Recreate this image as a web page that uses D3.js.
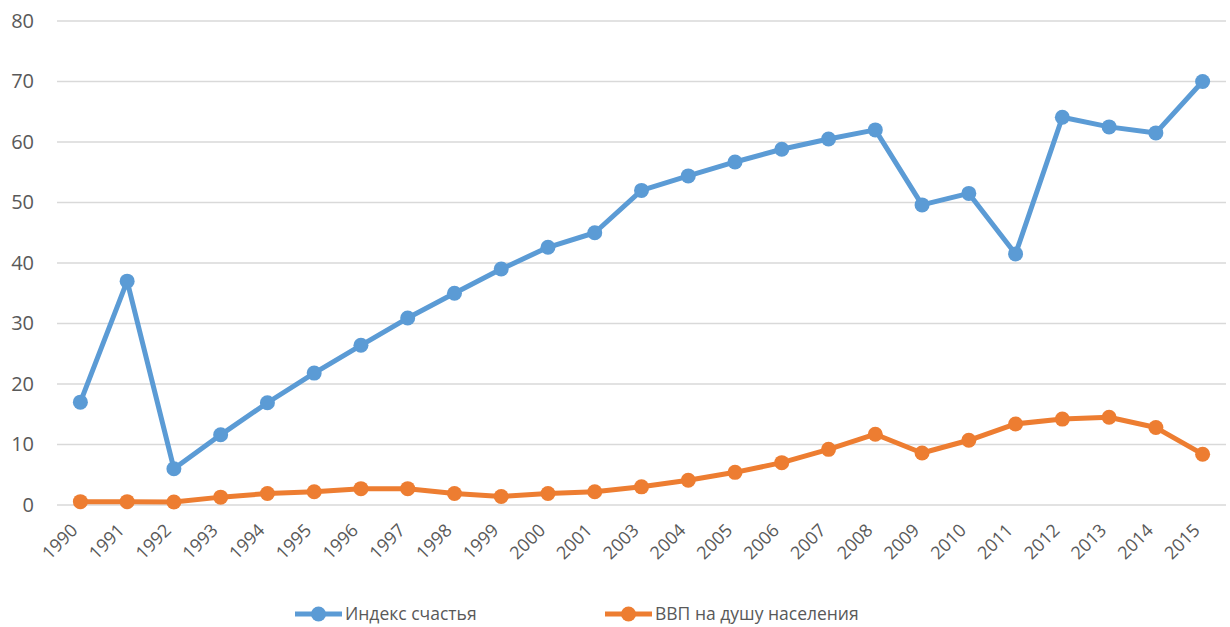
<!DOCTYPE html>
<html>
<head>
<meta charset="utf-8">
<script src="https://cdn.jsdelivr.net/npm/d3@7"></script>
<style>
  body { margin: 0; background: #fff; }
  text { font-family: "Open Sans", "Noto Sans", sans-serif; fill: #595959; }
</style>
</head>
<body>
<div id="chart"></div>
<script>
var years = ["1990", "1991", "1992", "1993", "1994", "1995", "1996", "1997", "1998", "1999",
             "2000", "2001", "2003", "2004", "2005", "2006", "2007", "2008", "2009", "2010",
             "2011", "2012", "2013", "2014", "2015"];
var happiness = [17.0, 37.0, 6.0, 11.6, 16.9, 21.8, 26.4, 30.9, 35.0, 39.0,
                 42.6, 45.0, 52.0, 54.4, 56.7, 58.8, 60.5, 62.0, 49.6, 51.5,
                 41.5, 64.1, 62.5, 61.5, 70.0];
var gdp = [0.55, 0.55, 0.5, 1.3, 1.9, 2.2, 2.7, 2.7, 1.9, 1.4,
           1.9, 2.2, 3.0, 4.1, 5.4, 7.0, 9.2, 11.7, 8.6, 10.7,
           13.4, 14.2, 14.5, 12.8, 8.4];
var yTicks = [0, 10, 20, 30, 40, 50, 60, 70, 80];
var seriesNames = ["Индекс счастья", "ВВП на душу населения"];
var colors = ["#5B9BD5", "#ED7D31"];

var w = 1230;
var h = 627;
var margin = {left: 57, right: 4, top: 21, bottom: 122};

var svg = d3.select("#chart")
			.append("svg")
			.attr("width", w)
			.attr("height", h);

var x = d3.scaleBand()
		  .domain(years)
		  .range([margin.left, w - margin.right]);

var y = d3.scaleLinear()
		  .domain([0, 80])
		  .range([h - margin.bottom, margin.top]);

// gridlines
svg.append("g")
   .selectAll("line")
   .data(yTicks)
   .enter()
   .append("line")
   .attr("x1", margin.left)
   .attr("x2", w - margin.right)
   .attr("y1", d => y(d))
   .attr("y2", d => y(d))
   .attr("stroke", "#d9d9d9")
   .attr("stroke-width", 1.3);

// y axis labels
var yAxis = d3.axisLeft(y).tickValues(yTicks).tickSize(0).tickPadding(0);
var yg = svg.append("g")
			.attr("transform", "translate(34,0)")
			.call(yAxis);
yg.select(".domain").remove();
yg.selectAll("text")
  .attr("font-size", "20px")
  .style("font-family", "\"Open Sans\", sans-serif")
  .attr("fill", "#595959");

// x axis labels
var xAxis = d3.axisBottom(x).tickSize(0).tickPadding(0);
var xg = svg.append("g")
			.attr("transform", "translate(0," + (h - margin.bottom) + ")")
			.call(xAxis);
xg.select(".domain").remove();
xg.selectAll("text")
  .attr("font-size", "18px")
  .style("font-family", "\"Open Sans\", sans-serif")
  .attr("fill", "#595959")
  .attr("text-anchor", "end")
  .attr("dy", "0.35em")
  .attr("transform", "translate(-6,22) rotate(-45)");

var allSeries = [happiness, gdp];
var line = d3.line()
			 .x((d, i) => x(years[i]) + x.bandwidth() / 2)
			 .y(d => y(d));

allSeries.forEach(function(s, k) {
	svg.append("path")
	   .datum(s)
	   .attr("d", line)
	   .attr("fill", "none")
	   .attr("stroke", colors[k])
	   .attr("stroke-width", 5)
	   .attr("stroke-linejoin", "round");

	svg.append("g")
	   .selectAll("circle")
	   .data(s)
	   .enter()
	   .append("circle")
	   .attr("cx", (d, i) => x(years[i]) + x.bandwidth() / 2)
	   .attr("cy", d => y(d))
	   .attr("r", 7.5)
	   .attr("fill", colors[k]);
});

// legend
var legendX = [295, 605];
var legendY = 614;
seriesNames.forEach(function(name, k) {
	var g = svg.append("g").attr("transform", "translate(" + legendX[k] + "," + legendY + ")");
	g.append("line")
	 .attr("x1", 0).attr("x2", 47)
	 .attr("y1", 0).attr("y2", 0)
	 .attr("stroke", colors[k])
	 .attr("stroke-width", 5);
	g.append("circle")
	 .attr("cx", 23.5).attr("cy", 0)
	 .attr("r", 7.5)
	 .attr("fill", colors[k]);
	g.append("text")
	 .attr("x", 50)
	 .attr("y", 0)
	 .attr("dy", "0.35em")
	 .attr("font-size", "17.5px")
	 .text(name);
});
</script>
</body>
</html>
